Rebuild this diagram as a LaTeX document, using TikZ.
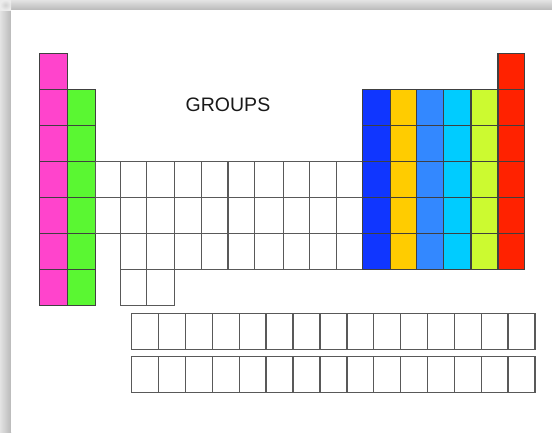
\documentclass[tikz,border=0pt]{standalone}
\usepackage{fontspec}
\setmainfont{Liberation Sans}
\definecolor{cpink}{HTML}{FF44CC}
\definecolor{cgreen}{HTML}{5AF732}
\definecolor{cblue}{HTML}{1036FF}
\definecolor{cyellow}{HTML}{FFCC00}
\definecolor{clblue}{HTML}{3388FF}
\definecolor{ccyan}{HTML}{00CCFF}
\definecolor{clime}{HTML}{CCFA30}
\definecolor{cred}{HTML}{FF2200}
\tikzset{
  cell/.style={draw=black!65, line width=1.4pt, fill=white},
  ccell/.style={draw=black!75, line width=1.4pt},
}
\begin{document}
\begin{tikzpicture}[x=1pt,y=-1pt]
\useasboundingbox (0,0) rectangle (552,432);
% shadow frame
\shade[left color=gray!22, right color=gray!55] (0,0) rectangle (11,432);
\shade[top color=gray!22, bottom color=gray!55] (0,0) rectangle (552,10);
\shade[inner color=gray!35, outer color=gray!15] (0,0) rectangle (11,10);
\fill[white] (11,10) rectangle (552,432);
% group 1 and 2
\foreach \r in {0,...,6} \filldraw[ccell, fill=cpink] (39.5,{53.3+36*\r}) rectangle (67.3,{89.3+36*\r});
\foreach \r in {1,...,6} \filldraw[ccell, fill=cgreen] (67.3,{53.3+36*\r}) rectangle (95.7,{89.3+36*\r});
% transition block
\foreach \xa/\xb in {95.7/120.7,120.7/146.3,146.3/174.5,174.5/201.7,201.7/228,228/254.7,254.7/283.3,283.3/309.7,309.7/336.3,336.3/363.3} {
  \draw[cell] (\xa,161.3) rectangle (\xb,197.3);
  \draw[cell] (\xa,197.3) rectangle (\xb,233.3);
}
\foreach \xa/\xb in {120.7/146.3,146.3/174.5,174.5/201.7,201.7/228,228/254.7,254.7/283.3,283.3/309.7,309.7/336.3,336.3/363.3} {
  \draw[cell] (\xa,233.3) rectangle (\xb,269.3);
}
\foreach \xa/\xb in {120.7/146.3,146.3/174.5} \draw[cell] (\xa,269.3) rectangle (\xb,305.3);
% p block
\foreach \xa/\xb/\c in {362.7/390.7/cblue,390.7/416.7/cyellow,416.7/443.7/clblue,443.7/471/ccyan,471/498/clime,498/524.7/cred} {
  \foreach \r in {1,...,5} \filldraw[ccell, fill=\c] (\xa,{53.3+36*\r}) rectangle (\xb,{89.3+36*\r});
}
\filldraw[ccell, fill=cred] (498,53.3) rectangle (524.7,89.3);
% f block
\foreach \i in {0,...,14} {
  \draw[cell] ({131.7+26.89*\i},313.3) rectangle ({131.7+26.89*(\i+1)},349.3);
  \draw[cell] ({131.7+26.89*\i},356.7) rectangle ({131.7+26.89*(\i+1)},392.7);
}
\node[font=\fontsize{19.5}{22}\selectfont, text=black!90, inner sep=0pt, anchor=base] (title) at (228,111.7) {GROUPS};
\end{tikzpicture}
\end{document}
